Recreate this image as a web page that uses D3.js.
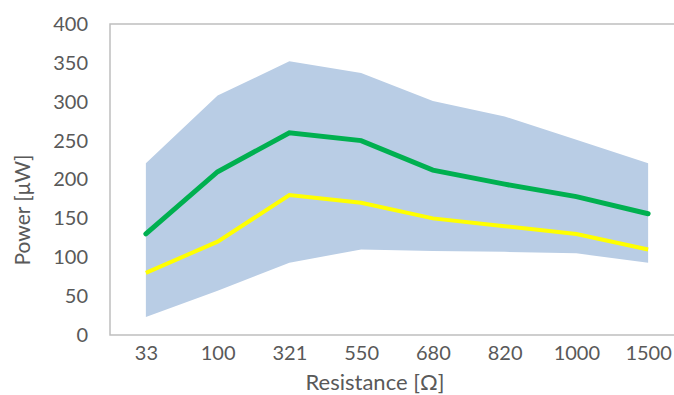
<!DOCTYPE html>
<html>
<head>
<meta charset="utf-8">
<script src="https://cdn.jsdelivr.net/npm/d3@7"></script>
<style>
  body { margin: 0; background: #fff; }
  svg { display: block; font-family: Lato, "Open Sans", sans-serif; }
</style>
</head>
<body>
<script>
// data
var resistances = ["33", "100", "321", "550", "680", "820", "1000", "1500"];
var meanPower = [130, 210, 260, 250, 212, 194, 178, 156];
var medianPower = [80, 120, 180, 170, 150, 140, 130, 110];
var upperPower = [221, 308, 352, 337, 301, 281, 251, 221];
var lowerPower = [23, 57, 93, 110, 108, 107, 105, 93];
var yTicks = [0, 50, 100, 150, 200, 250, 300, 350, 400];

var W = 674, H = 395;
var margin = {top: 24, right: -10, bottom: 60, left: 110},
    width = W - margin.left - margin.right,
    height = H - margin.top - margin.bottom;

var svg = d3.select("body").append("svg")
    .attr("width", W)
    .attr("height", H);

var g = svg.append("g")
    .attr("transform", "translate(" + margin.left + "," + margin.top + ")");

var x = d3.scalePoint().domain(resistances).range([0, width]).padding(0.5);
var y = d3.scaleLinear().domain([0, 400]).range([height, 0]);

var rows = resistances.map(function(r, i) {
  return {r: r, mean: meanPower[i], median: medianPower[i], hi: upperPower[i], lo: lowerPower[i]};
});

// plot frame
g.append("path")
    .attr("d", "M" + width + ",0H0V" + height + "H" + width)
    .attr("fill", "none")
    .attr("stroke", "#bfbfbf")
    .attr("stroke-width", 1.5);

// range band
var area = d3.area()
    .x(function(d) { return x(d.r); })
    .y0(function(d) { return y(d.lo); })
    .y1(function(d) { return y(d.hi); });

g.append("path")
    .datum(rows)
    .attr("fill", "#b9cde5")
    .attr("d", area);

// lines
function line(key) {
  return d3.line()
    .x(function(d) { return x(d.r); })
    .y(function(d) { return y(d[key]); });
}

g.append("path")
    .datum(rows)
    .attr("fill", "none")
    .attr("stroke", "#ffff00")
    .attr("stroke-width", 4)
    .attr("d", line("median"));

g.append("path")
    .datum(rows)
    .attr("fill", "none")
    .attr("stroke", "#00b050")
    .attr("stroke-width", 5)
    .attr("stroke-linecap", "round")
    .attr("d", line("mean"));

// y axis labels
var yAxis = g.append("g")
    .attr("transform", "translate(-22,0)")
    .call(d3.axisLeft(y).tickValues(yTicks).tickSize(0).tickPadding(0));
yAxis.select(".domain").remove();
yAxis.selectAll("text")
    .attr("font-size", 20)
    .attr("font-family", "Lato, 'Open Sans', sans-serif")
    .attr("fill", "#595959");

// x axis labels
var xAxis = g.append("g")
    .attr("transform", "translate(0," + height + ")")
    .call(d3.axisBottom(x).tickSize(0).tickPadding(11));
xAxis.select(".domain").remove();
xAxis.selectAll("text")
    .attr("font-size", 20)
    .attr("font-family", "Lato, 'Open Sans', sans-serif")
    .attr("fill", "#595959");

// axis titles
svg.append("text")
    .attr("transform", "translate(30,210) rotate(-90)")
    .attr("text-anchor", "middle")
    .attr("font-size", 21)
    .attr("fill", "#595959")
    .text("Power [μW]");

svg.append("text")
    .attr("x", 375)
    .attr("y", 390)
    .attr("text-anchor", "middle")
    .attr("font-size", 22)
    .attr("fill", "#595959")
    .text("Resistance [Ω]");
</script>
</body>
</html>
